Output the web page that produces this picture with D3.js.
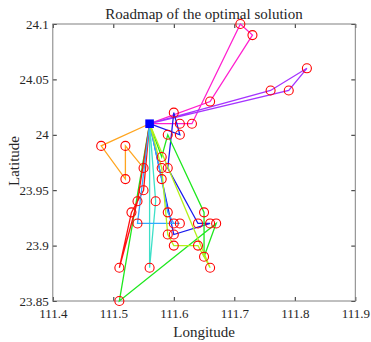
<!DOCTYPE html>
<html>
<head>
<meta charset="utf-8">
<script src="https://cdn.jsdelivr.net/npm/d3@7"></script>
<style>
  body { margin: 0; background: #fff; }
  svg { display: block; }
  text { font-family: "Liberation Serif", "Times New Roman", serif; fill: #262626; }
</style>
</head>
<body>
<svg id="chart" width="371" height="342"></svg>
<script>
// depot and customer points (longitude, latitude)
var depot = [111.56, 24.01];
var customers = [
    [111.71, 24.10], [111.73, 24.09], [111.82, 24.06], [111.76, 24.04], [111.79, 24.04],
    [111.66, 24.03], [111.60, 24.02], [111.61, 24.01], [111.63, 24.01], [111.59, 24.00],
    [111.61, 24.00], [111.48, 23.99], [111.52, 23.99], [111.52, 23.96], [111.55, 23.97],
    [111.55, 23.95], [111.54, 23.94], [111.57, 23.94], [111.58, 23.98], [111.58, 23.97],
    [111.59, 23.97], [111.58, 23.96], [111.53, 23.93], [111.54, 23.92], [111.59, 23.93],
    [111.60, 23.92], [111.61, 23.92], [111.59, 23.91], [111.60, 23.91], [111.60, 23.90],
    [111.51, 23.88], [111.56, 23.88], [111.51, 23.85], [111.65, 23.93], [111.64, 23.92],
    [111.66, 23.92], [111.67, 23.92], [111.64, 23.90], [111.65, 23.89], [111.66, 23.88]
];
// routes as customer numbers (1-based), each starts and ends at the depot
var routes = [
    [12, 14, 13, 15],
    [6, 2, 1, 9, 8],
    [4, 3, 5],
    [11, 7, 21, 35, 36, 29],
    [19, 10, 34, 39, 37, 33],
    [16, 23, 31, 17],
    [18, 32],
    [22, 25, 26, 27, 24],
    [20, 28, 30, 38, 40]
];
var routeColors = ['#ffa51f', '#ff1fcf', '#a533ff', '#1a1aee', '#1ee81e', '#ff1010', '#3de0c8', '#33a8ff', '#b5f01a'];

var xTicks = [111.4, 111.5, 111.6, 111.7, 111.8, 111.9];
var yTicks = [23.85, 23.9, 23.95, 24, 24.05, 24.1];

var mLeft = 52.8, mRight = 355.3, mTop = 24, mBottom = 301;

var svg = d3.select('#chart');
var x = d3.scaleLinear().domain([111.4, 111.9]).range([mLeft, mRight]);
var y = d3.scaleLinear().domain([23.85, 24.1]).range([mBottom, mTop]);

// axes with inward ticks
function styleAxis(g) {
    g.select('.domain').remove();
    g.selectAll('.tick line').attr('stroke', '#262626');
    g.selectAll('.tick text').attr('font-size', 13).attr('fill', '#262626')
        .attr('font-family', '"Liberation Serif", serif');
}
svg.append('g').attr('transform', 'translate(0,' + mBottom + ')')
    .call(d3.axisBottom(x).tickValues(xTicks).tickFormat(d3.format('')).tickSizeInner(-4).tickSizeOuter(0).tickPadding(8))
    .call(styleAxis);
svg.append('g').attr('transform', 'translate(0,' + mTop + ')')
    .call(d3.axisTop(x).tickValues(xTicks).tickFormat('').tickSizeInner(-4).tickSizeOuter(0))
    .call(styleAxis);
svg.append('g').attr('transform', 'translate(' + mLeft + ',0)')
    .call(d3.axisLeft(y).tickValues(yTicks).tickFormat(d3.format('')).tickSizeInner(-4).tickSizeOuter(0).tickPadding(4))
    .call(styleAxis);
svg.append('g').attr('transform', 'translate(' + mRight + ',0)')
    .call(d3.axisRight(y).tickValues(yTicks).tickFormat('').tickSizeInner(-4).tickSizeOuter(0))
    .call(styleAxis);

svg.append('rect')
    .attr('x', mLeft).attr('y', mTop)
    .attr('width', mRight - mLeft).attr('height', mBottom - mTop)
    .attr('fill', 'none').attr('stroke', '#808080').attr('stroke-width', 1);

// route lines
var line = d3.line().x(function (d) { return x(d[0]); }).y(function (d) { return y(d[1]); });
routes.forEach(function (r, i) {
    var pts = [depot].concat(r.map(function (k) { return customers[k - 1]; })).concat([depot]);
    svg.append('path')
        .attr('d', line(pts))
        .attr('fill', 'none')
        .attr('stroke', routeColors[i])
        .attr('stroke-width', 1.3);
});

// customers
svg.selectAll('circle.cust').data(customers).enter().append('circle')
    .attr('class', 'cust')
    .attr('cx', function (d) { return x(d[0]); })
    .attr('cy', function (d) { return y(d[1]); })
    .attr('r', 4.5)
    .attr('fill', 'none')
    .attr('stroke', '#ff0000')
    .attr('stroke-width', 1.1);

// depot
svg.append('rect')
    .attr('x', x(depot[0]) - 4.3).attr('y', y(depot[1]) - 4.3)
    .attr('width', 8.6).attr('height', 8.6)
    .attr('fill', '#0000ff');

// labels
svg.append('text').attr('x', (mLeft + mRight) / 2).attr('y', 19)
    .attr('text-anchor', 'middle').attr('font-size', 15)
    .text('Roadmap of the optimal solution');
svg.append('text').attr('x', (mLeft + mRight) / 2).attr('y', 337)
    .attr('text-anchor', 'middle').attr('font-size', 15)
    .text('Longitude');
svg.append('text').attr('transform', 'translate(19,161) rotate(-90)')
    .attr('text-anchor', 'middle').attr('font-size', 15)
    .text('Latitude');
</script>
</body>
</html>
